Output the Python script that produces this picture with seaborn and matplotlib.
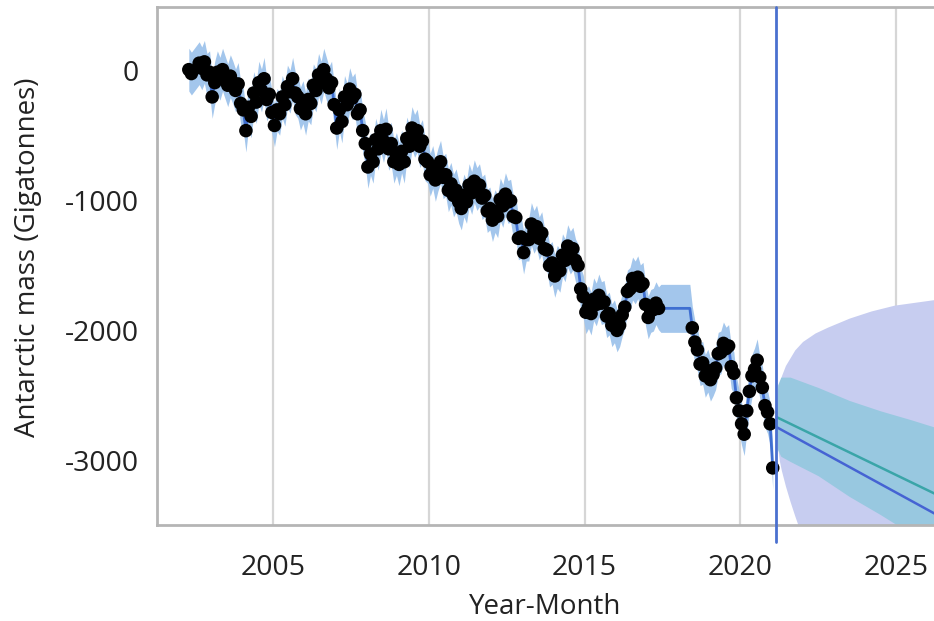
import numpy as np
import pandas as pd
import matplotlib
matplotlib.use("Agg")
import matplotlib.pyplot as plt
import seaborn as sns
from matplotlib.ticker import MultipleLocator

nan = np.nan

# ---- monthly Antarctic mass (Gt), Jan..Dec ----
years = list(range(2002, 2022))
mass_2002 = [nan, nan, nan, 10, -20, nan, nan, 60, 20, 70, -30, -10]
mass_2003 = [-200, -90, -10, -60, 10, -50, -110, -40, -90, -150, -100, -250]
mass_2004 = [-300, -460, -280, -350, -170, -240, -90, -150, -60, -220, -180, -320]
mass_2005 = [-420, -300, -330, -200, -260, -120, -160, -60, -170, -200, -290, -240]
mass_2006 = [-330, -220, -250, -110, -150, -30, -90, 10, -60, -130, -90, -260]
mass_2007 = [-440, -300, -390, -200, -260, -140, -210, -180, -330, -300, -460, -560]
mass_2008 = [-740, -640, -700, -530, -600, -460, -540, -450, -600, -560, -700, -640]
mass_2009 = [-720, -620, -700, -520, -580, -440, -500, -460, -580, -540, -680, -700]
mass_2010 = [-800, -740, -840, -760, -700, -820, -800, -920, -870, -960, -920, -1010]
mass_2011 = [-1060, -960, -1010, -880, -940, -850, -910, -880, -980, -960, -1080, -1060]
mass_2012 = [-1150, -1080, -1120, -990, -1040, -950, -1010, -1000, -1120, -1130, -1290, -1280]
mass_2013 = [-1400, -1300, -1300, -1180, -1240, -1200, -1290, -1250, -1370, -1380, -1500, -1480]
mass_2014 = [-1580, -1510, -1540, -1420, -1460, -1350, -1400, -1370, -1460, -1500, -1680, -1740]
mass_2015 = [-1860, -1820, -1870, -1760, -1800, -1730, -1790, -1780, -1890, -1870, -1960, -1930]
mass_2016 = [-2000, -1960, -1880, -1820, -1700, -1680, -1600, -1630, -1590, -1660, -1640, -1800]
mass_2017 = [-1900, -1850, -1840, -1790, -1830, nan, nan, nan, nan, nan, nan, nan]
mass_2018 = [nan, nan, nan, nan, nan, -1980, -2090, -2150, -2260, -2250, -2350, -2310]
mass_2019 = [-2380, -2340, -2290, -2180, -2170, -2100, -2140, -2120, -2280, -2330, -2520, -2620]
mass_2020 = [-2720, -2800, -2620, -2470, -2350, -2300, -2230, -2360, -2440, -2580, -2630, -2720]
mass_2021 = [-3060, nan, nan, nan, nan, nan, nan, nan, nan, nan, nan, nan]
mass_rows = [mass_2002, mass_2003, mass_2004, mass_2005, mass_2006, mass_2007,
             mass_2008, mass_2009, mass_2010, mass_2011, mass_2012, mass_2013,
             mass_2014, mass_2015, mass_2016, mass_2017, mass_2018, mass_2019,
             mass_2020, mass_2021]

# model prediction across the GRACE gap (flat)
gap_t = [2017.45, 2018.38]
gap_pred = [-1830, -1830]
band_half = 165
gap_band_half = 185

# ---- forecast ----
fc_line_t = [2021.16, 2026.3]
fc_teal = [-2668, -3265]
fc_blue = [-2745, -3420]

purple_t = [2021.17, 2021.2, 2021.25, 2021.32, 2021.45, 2021.6, 2021.75, 2022.0,
            2022.4, 2022.8, 2023.5, 2024.2, 2024.95, 2026.3]
purple_hi = [-2700, -2520, -2420, -2350, -2270, -2210, -2150, -2085,
             -2020, -1975, -1905, -1850, -1805, -1760]
purple_lo = [-2760, -2900, -3000, -3080, -3200, -3320, -3430, -3600,
             -3800, -3950, -4150, -4300, -4450, -4700]

teal_t = [2021.17, 2021.2, 2021.3, 2021.6, 2022.5, 2023.5, 2024.5, 2025.5, 2026.3]
teal_hi = [-2600, -2420, -2360, -2360, -2440, -2540, -2620, -2690, -2750]
teal_lo = [-2800, -2920, -2970, -3010, -3120, -3280, -3420, -3570, -3690]

x_label = "Year-Month"
y_label = "Antarctic mass (Gigatonnes)"

# ---- build tables ----
rows = []
for yr, vals in zip(years, mass_rows):
    for m, v in enumerate(vals):
        if not np.isnan(v):
            rows.append((yr + (m + 0.5) / 12.0, v))
obs = pd.DataFrame(rows, columns=["t", "mass"])
pred = pd.concat([obs.assign(half=band_half),
                  pd.DataFrame({"t": gap_t, "mass": gap_pred, "half": gap_band_half})]
                 ).sort_values("t").reset_index(drop=True)

sns.set_style("white")
plt.rcParams["font.family"] = ["Open Sans", "DejaVu Sans"]

fig = plt.figure(figsize=(9.34, 6.21), dpi=100)
ax = fig.add_axes([157 / 934, 1 - 525 / 621, 1 - 157 / 934, (525 - 7) / 621])

# grid lines
for gx in [2005, 2010, 2015, 2020, 2025]:
    ax.axvline(gx, color="#d6d6d6", lw=1.6, zorder=0)

# forecast regions
ax.fill_between(purple_t, purple_lo, purple_hi, color="#c7cdf0", lw=0, zorder=1)
ax.fill_between(teal_t, teal_lo, teal_hi, color="#98c8e0", lw=0, zorder=1.5)

# fit band
ax.fill_between(pred["t"], pred["mass"] - pred["half"], pred["mass"] + pred["half"],
                color="#a3c6ec", lw=0, zorder=2)
sns.lineplot(data=pred, x="t", y="mass", ax=ax, color="#3f6fd1", lw=2, zorder=3,
             estimator=None, sort=True)

# forecast lines
sns.lineplot(x=fc_line_t, y=fc_teal, ax=ax, color="#3aa5a8", lw=1.8, zorder=4)
sns.lineplot(x=fc_line_t, y=fc_blue, ax=ax, color="#4563d3", lw=1.8, zorder=4)

# observations
sns.scatterplot(data=obs, x="t", y="mass", ax=ax, color="black", s=95,
                edgecolor="none", zorder=5)

ax.axvline(2021.16, ymin=-0.033, ymax=1, color="#4a70cf", lw=2, zorder=6, clip_on=False)

ax.set_xlim(2001.27, 2026.22)
ax.set_ylim(-3500, 493)

ax.xaxis.set_major_locator(MultipleLocator(5))
ax.xaxis.set_minor_locator(MultipleLocator(2.5))
ax.yaxis.set_major_locator(MultipleLocator(1000))
ax.yaxis.set_minor_locator(MultipleLocator(500))
ax.tick_params(axis="x", which="major", length=12, width=1.2, color="#a0a0a0",
               labelsize=20.5, pad=9, labelcolor="#222222")
ax.tick_params(axis="x", which="minor", length=6, width=1.2, color="#a0a0a0")
ax.tick_params(axis="y", which="major", length=7, width=1.2, color="#a0a0a0",
               labelsize=20.5, pad=6, labelcolor="#222222")
ax.tick_params(axis="y", which="minor", length=4, width=1.2, color="#a0a0a0")
ax.set_yticks([0, -1000, -2000, -3000])
ax.set_yticklabels(["0", "-1000", "-2000", "-3000"])

for s in ["left", "bottom", "top"]:
    ax.spines[s].set_color("#b5b5b5")
    ax.spines[s].set_linewidth(2)
ax.spines["right"].set_visible(False)

ax.set_xlabel(x_label, fontsize=20, color="#222222")
ax.set_ylabel(y_label, fontsize=20, color="#222222")
ax.xaxis.set_label_coords((545 - 157) / 777, -(607 - 525) / 518)
ax.yaxis.set_label_coords(-(157 - 28) / 777, (525 - 257) / 518)
ax.xaxis.label.set_va("center")
ax.yaxis.label.set_va("center")

fig.savefig("out.png", dpi=100)
